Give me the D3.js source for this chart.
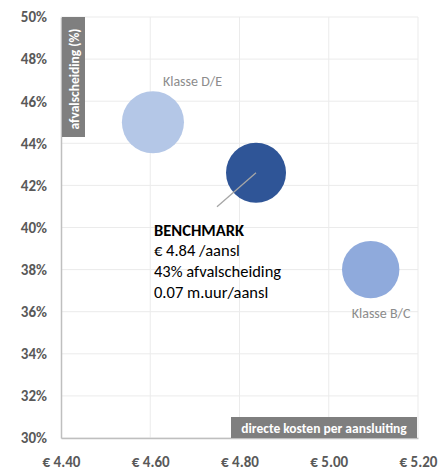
<!DOCTYPE html>
<html>
<head>
<meta charset="utf-8">
<script src="https://cdnjs.cloudflare.com/ajax/libs/d3/7.8.5/d3.min.js"></script>
<style>
  body { margin: 0; background: #fff; }
  text { font-family: Carlito, Calibri, "Open Sans", "Liberation Sans", sans-serif; }
</style>
</head>
<body>
<script>
// data
const groups = ["Klasse D/E", "BENCHMARK", "Klasse B/C"];
const kosten = [4.606, 4.837, 5.094];
const scheiding = [0.45, 0.426, 0.38];
const uren = [0.075, 0.07, 0.064];
const colors = ["#b4c7e7", "#2f5597", "#8faadc"];
const xTicks = [4.4, 4.6, 4.8, 5.0, 5.2];
const yTicks = [0.30, 0.32, 0.34, 0.36, 0.38, 0.40, 0.42, 0.44, 0.46, 0.48, 0.50];
const benchLines = ["€ 4.84 /aansl", "43% afvalscheiding", "0.07 m.uur/aansl"];

const w = 444, h = 473;
const pLeft = 61, pRight = 418, pTop = 17, pBottom = 438;

const svg = d3.select("body").append("svg")
  .attr("width", w).attr("height", h);

const x = d3.scaleLinear().domain([4.4, 5.2]).range([pLeft, pRight]);
const y = d3.scaleLinear().domain([0.30, 0.50]).range([pBottom, pTop]);
const r = d3.scaleSqrt().domain([0, 0.07]).range([0, 30]);

// grid
svg.append("g").selectAll("line").data(yTicks).enter().append("line")
  .attr("x1", pLeft).attr("x2", pRight)
  .attr("y1", d => y(d)).attr("y2", d => y(d))
  .attr("stroke", "#ebebeb").attr("stroke-width", 1);
svg.append("g").selectAll("line").data(xTicks.slice(1)).enter().append("line")
  .attr("x1", d => x(d)).attr("x2", d => x(d))
  .attr("y1", pTop).attr("y2", pBottom)
  .attr("stroke", "#ebebeb").attr("stroke-width", 1);

// axes
const xAxis = d3.axisBottom(x).tickValues(xTicks).tickSize(0).tickPadding(18)
  .tickFormat(d => "€ " + d3.format(".2f")(d));
const yAxis = d3.axisLeft(y).tickValues(yTicks).tickSize(0).tickPadding(14)
  .tickFormat(d3.format(".0%"));

const gx = svg.append("g").attr("transform", "translate(0," + pBottom + ")").call(xAxis);
const gy = svg.append("g").attr("transform", "translate(" + pLeft + ",0)").call(yAxis);
[gx, gy].forEach(g => {
  g.select(".domain").attr("stroke", "#bfbfbf").attr("stroke-width", 1.5);
  g.selectAll("text").attr("fill", "#595959").style("font-size", "15px").style("font-weight", "bold");
});

// axis titles
svg.append("rect").attr("x", 62).attr("y", pTop).attr("width", 23).attr("height", 120).attr("fill", "#7f7f7f");
svg.append("text")
  .attr("transform", "translate(78.5," + (pTop + 62) + ") rotate(-90)")
  .attr("text-anchor", "middle").attr("fill", "#fff")
  .style("font-size", "13.5px").style("font-weight", "bold")
  .text("afvalscheiding (%)");

svg.append("rect").attr("x", 231).attr("y", 417).attr("width", 186).attr("height", 21).attr("fill", "#7f7f7f");
svg.append("text")
  .attr("x", 324).attr("y", 432.5)
  .attr("text-anchor", "middle").attr("fill", "#fff")
  .style("font-size", "13.5px").style("font-weight", "bold")
  .text("directe kosten per aansluiting");

// bubbles
const bubbles = groups.map((g, i) => ({ name: g, x: kosten[i], y: scheiding[i], s: uren[i], c: colors[i] }));
svg.append("g").selectAll("circle").data(bubbles).enter().append("circle")
  .attr("cx", d => x(d.x)).attr("cy", d => y(d.y))
  .attr("r", d => r(d.s))
  .attr("fill", d => d.c);

// leader line for benchmark
const b = bubbles[1];
svg.append("line")
  .attr("x1", x(b.x)).attr("y1", y(b.y))
  .attr("x2", x(b.x) - 39).attr("y2", y(b.y) + 34)
  .attr("stroke", "#a6a6a6").attr("stroke-width", 1.3);

// class labels
svg.append("text").attr("x", x(bubbles[0].x) + 10).attr("y", y(bubbles[0].y) - 36)
  .attr("fill", "#8c8c8c").style("font-size", "14px").text(groups[0]);
svg.append("text").attr("x", x(bubbles[2].x) - 19).attr("y", y(bubbles[2].y) + 48)
  .attr("fill", "#8c8c8c").style("font-size", "14px").text(groups[2]);

// benchmark label
const bt = svg.append("text").attr("x", 154).attr("y", 235.5).attr("fill", "#000").style("font-size", "16.5px");
bt.append("tspan").attr("x", 154).style("font-weight", "bold").text(groups[1]);
benchLines.forEach((t, i) => {
  bt.append("tspan").attr("x", 154).attr("dy", 20.7).text(t);
});
</script>
</body>
</html>
